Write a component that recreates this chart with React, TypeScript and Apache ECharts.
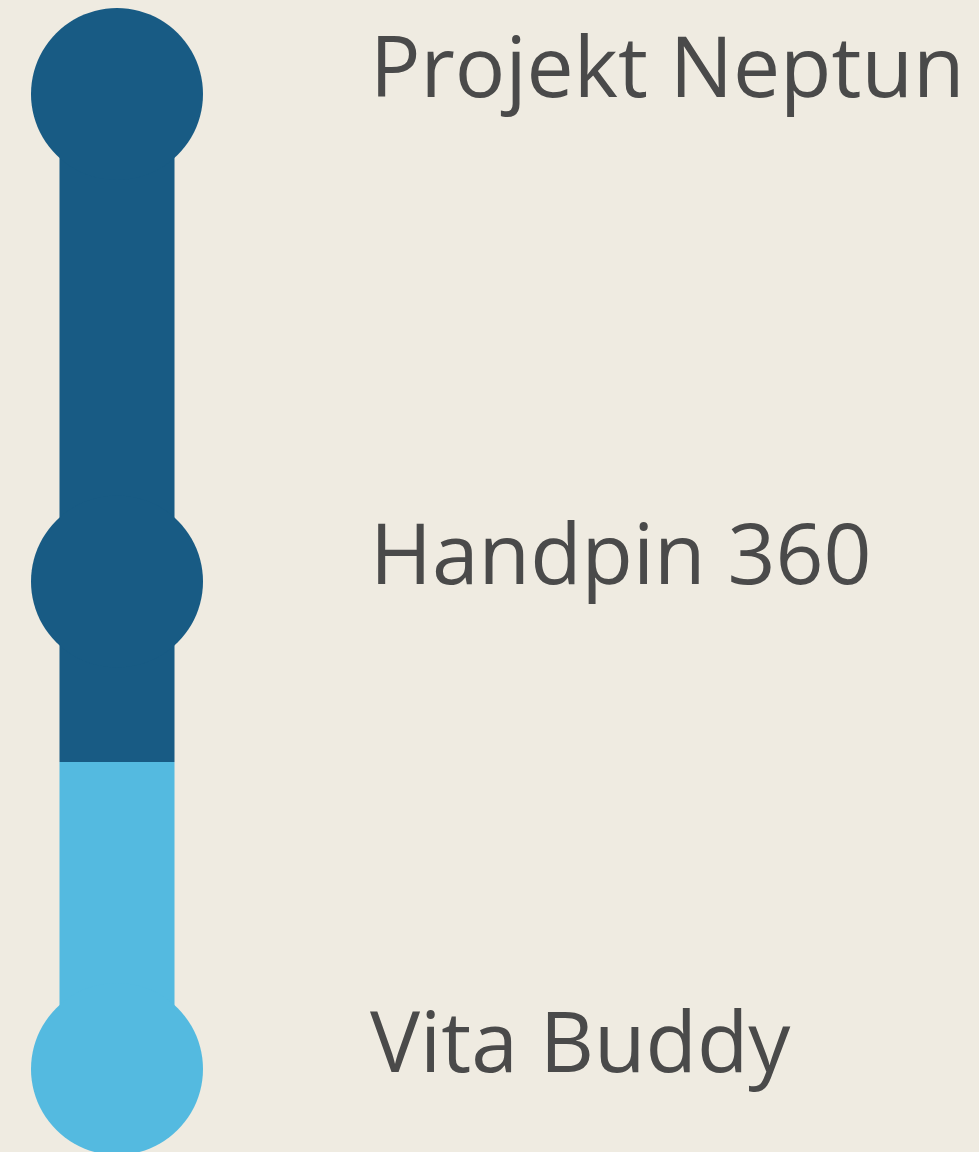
import React, { useEffect, useRef } from "react";
import * as echarts from "echarts";

const milestones = ["Projekt Neptun", "Handpin 360", "Vita Buddy"];
const milestonePos = [0, 1, 2];
const progressValue = 1.37;
const trackX = 117;

const DARK = "#185B84";
const LIGHT = "#54BAE0";
const BG = "#EFEBE1";
const TEXT = "#4A4A4A";

export default function App() {
  const ref = useRef<HTMLDivElement>(null);
  useEffect(() => {
    document.body.style.margin = "0";
    document.body.style.background = BG;
    const chart = echarts.init(ref.current!, undefined, { renderer: "svg" });
    const lastPos = milestonePos[milestonePos.length - 1];
    chart.setOption({
      animation: false,
      backgroundColor: BG,
      grid: { left: 0, right: 0, top: 94, bottom: 83, containLabel: false },
      xAxis: { type: "value", min: 0, max: 979, show: false },
      yAxis: { type: "value", min: 0, max: lastPos, inverse: true, show: false },
      series: [
        {
          type: "line",
          data: [
            [trackX, milestonePos[0]],
            [trackX, progressValue],
          ],
          symbol: "none",
          lineStyle: { color: DARK, width: 115, cap: "butt", opacity: 1 },
          z: 1,
        },
        {
          type: "line",
          data: [
            [trackX, progressValue],
            [trackX, lastPos],
          ],
          symbol: "none",
          lineStyle: { color: LIGHT, width: 115, cap: "butt", opacity: 1 },
          z: 1,
        },
        {
          type: "scatter",
          symbol: "circle",
          symbolSize: 172,
          z: 2,
          itemStyle: { opacity: 1 },
          data: milestones.map((name, i) => ({
            name,
            value: [trackX, milestonePos[i]],
            itemStyle: { color: milestonePos[i] <= progressValue ? DARK : LIGHT, opacity: 1 },
          })),
          label: {
            show: true,
            position: "right",
            distance: 167,
            formatter: (p: any) => p.name,
            color: TEXT,
            opacity: 1,
            fontFamily: "Open Sans",
            fontSize: 84,
            offset: [0, -30],
          },
        },
      ],
    });
    return () => chart.dispose();
  }, []);
  return <div ref={ref} style={{ width: 979, height: 1152 }} />;
}
